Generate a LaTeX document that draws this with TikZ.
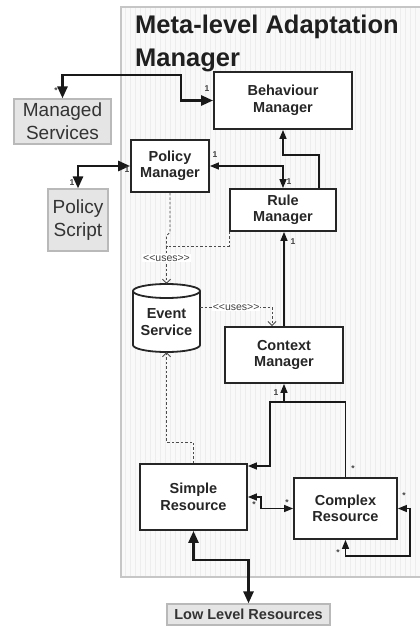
\documentclass[tikz,border=0pt]{standalone}
\usepackage{fontspec}
\setmainfont{Liberation Sans}
\usetikzlibrary{arrows.meta}
\begin{document}
\begin{tikzpicture}[x=1pt,y=-1pt,
  box/.style={draw=black!85, line width=1.8pt, fill=white, align=center,
    inner sep=0pt, font=\bfseries\fontsize{14.5}{16.5}\selectfont, text=black!85},
  extbox/.style={draw=gray!55, line width=1.2pt, fill=gray!20, align=center,
    inner sep=0pt, font=\fontsize{19}{23}\selectfont, text=black!80},
  lowbox/.style={extbox, font=\bfseries\fontsize{14.5}{16.5}\selectfont},
  boxtext/.style={align=center, inner sep=0pt, font=\bfseries\fontsize{14.5}{16.5}\selectfont, text=black!85},
  title/.style={inner sep=0pt, font=\bfseries\fontsize{25.5}{30}\selectfont, text=black!88},
  heavy/.style={line width=2.6pt, draw=black!90,
    {Triangle[length=12pt,width=10pt]}-{Triangle[length=12pt,width=10pt]}},
  light/.style={line width=1.3pt, draw=black!90},
  tipend/.style={-{Triangle[length=9pt,width=7pt]}},
  bothends/.style={{Triangle[length=9pt,width=7pt]}-{Triangle[length=9pt,width=7pt]}},
  usesline/.style={draw=black!70, line width=0.9pt, dash pattern=on 2.5pt off 2pt},
  opentip/.style={-{Straight Barb[length=4pt,width=8pt]}},
  uses/.style={fill=white, inner sep=1pt, font=\fontsize{10.5}{12}\selectfont, text=black!75},
  mult/.style={inner sep=0pt, font=\bfseries\fontsize{8.5}{10}\selectfont, text=black!75}
]
\useasboundingbox (0,0) rectangle (420,626);

% adaptation manager panel with its grid
\fill[gray!5] (121,7) rectangle (420,577);
\draw[gray!14, line width=0.3pt, step=5] (121,7) grid (420,577);
\draw[gray!45, line width=1.2pt] (420,7) -- (121,7) -- (121,577) -- (420,577);

\node[title, anchor=base west] (t1) at (135,34) {Meta-level Adaptation};
\node[title, anchor=base west] (t2) at (135,66.5) {Manager};

% components
\node[box, minimum width=138pt, minimum height=57pt] (bm) at (283,100.5) {Behaviour\\Manager};
\node[extbox, minimum width=97pt, minimum height=45pt] (ms) at (62.5,121.5) {Managed\\Services};
\node[box, minimum width=78pt, minimum height=52pt] (pm) at (170,166) {Policy\\Manager};
\node[extbox, minimum width=60pt, minimum height=62pt] (ps) at (78,220) {Policy\\Script};
\node[box, minimum width=106pt, minimum height=42pt] (rm) at (283,210) {Rule\\Manager};
\node[box, minimum width=118pt, minimum height=56pt] (cm) at (284,355) {Context\\Manager};
\node[box, minimum width=107pt, minimum height=66pt] (sr) at (193.5,497) {Simple\\Resource};
\node[box, minimum width=103pt, minimum height=61pt] (cr) at (345.5,508.5) {Complex\\Resource};
\node[lowbox, minimum width=163pt, minimum height=21pt] (llr) at (248.5,614.5) {Low Level Resources};

% event service store (cylinder)
\node[inner sep=0pt, minimum width=67pt, minimum height=68pt] (es) at (166.5,318) {};
\fill[white] (133,291) -- (133,345) arc[start angle=180,end angle=360,x radius=33.5pt,y radius=7pt]
  -- (200,291) arc[start angle=0,end angle=180,x radius=33.5pt,y radius=7pt] -- cycle;
\draw[black!85, line width=1.8pt] (133,291) -- (133,345)
  arc[start angle=180,end angle=360,x radius=33.5pt,y radius=7pt] -- (200,291);
\draw[black!85, line width=1.8pt] (166.5,291) ellipse[x radius=33.5pt, y radius=7pt];
\node[boxtext] (est) at (166.5,322) {Event\\Service};

% associations
\draw[heavy] (ms.north) |- (181,75) |- (bm.west);
\draw[heavy] (ps.north) |- (pm.west);
\draw[light, bothends] (pm.east) -| (rm.north);
\draw[light, tipend] ([xshift=-18pt]rm.north east) |- (bm.south |- 0,155) -- (bm.south);
\draw[light, tipend] (cm.north) -- (cm.north |- rm.south);

\coordinate (hub) at (284,402);
\draw[light, tipend] (hub) -- (cm.south);
\draw[light, tipend] (hub) -| (270,466) -- (sr.east |- 0,466);
\draw[light] (hub) -| (cr.north);
\draw[light, bothends] (sr.east) -- (261,497) |- (cr.west);
\draw[light, bothends] (cr.east) -| (410,556) -| (cr.south);
\draw[heavy] (sr.south) |- (248.5,560) -- (llr.north);

% uses dependencies
\coordinate (join) at (166.5,246);
\draw[usesline] (pm.south) -- (170,232) -- (166.5,236) -- (join);
\draw[usesline] (rm.south west) |- (join);
\draw[usesline, opentip] (join) -- node[uses, pos=0.32] {<\kern0pt<uses>\kern0pt>} (es.north);
\draw[usesline, opentip] ([yshift=11pt]es.east) -| node[uses, pos=0.25] {<\kern0pt<uses>\kern0pt>} ([xshift=-12pt]cm.north);
\draw[usesline, opentip] (sr.north) |- (166.5,442) -- (es.south);

% multiplicities
\node[mult] at (56,91) {*};
\node[mult] at (207,89) {1};
\node[mult] at (72,183) {1};
\node[mult] at (127,170) {1};
\node[mult] at (215,155) {1};
\node[mult] at (289,182) {1};
\node[mult] at (293,242) {1};
\node[mult] at (276,393) {1};
\node[mult] at (353,469) {*};
\node[mult] at (254,505) {*};
\node[mult] at (287,503) {*};
\node[mult] at (404,496) {*};
\node[mult] at (338,553) {*};
\end{tikzpicture}
\end{document}
